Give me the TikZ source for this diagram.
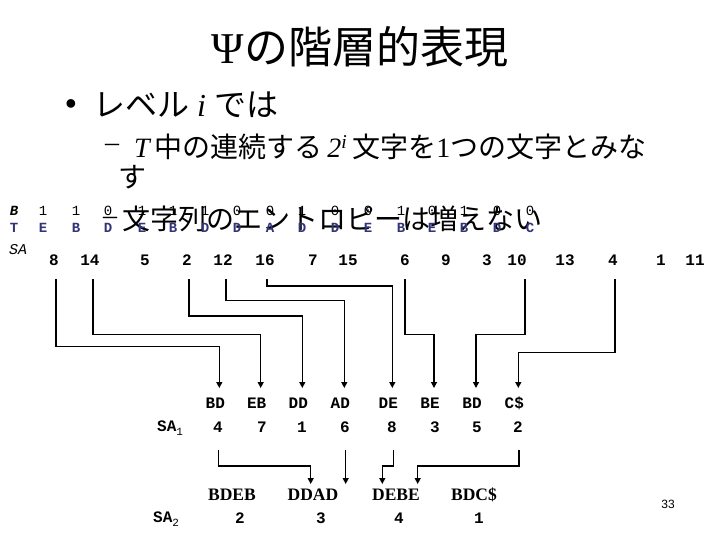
\documentclass[tikz,border=0pt]{standalone}
\usepackage{fontspec}
\setmainfont{Liberation Serif}
\newfontfamily\jp{Noto Sans CJK JP}
\newfontfamily\mono{Liberation Mono}
\newfontfamily\sansf{Liberation Sans}
\usetikzlibrary{arrows.meta}
\definecolor{tblue}{RGB}{51,51,120}
\tikzset{
  txt/.style={inner sep=0pt},
  brow/.style={txt, font=\mono\fontsize{14}{14}\selectfont},
  trow/.style={txt, font=\mono\bfseries\fontsize{14}{14}\selectfont, text=tblue},
  sarow/.style={txt, font=\mono\bfseries\fontsize{16}{16}\selectfont},
  pairtxt/.style={txt, font=\mono\bfseries\fontsize{16}{16}\selectfont},
  wordtxt/.style={txt, font=\bfseries\fontsize{17.5}{17.5}\selectfont},
  conn/.style={line width=1.3pt, -{Triangle[width=6pt,length=6pt]}},
}
\begin{document}
\begin{tikzpicture}[x=1pt,y=-1pt]
\useasboundingbox (0,0) rectangle (720,540);
\fill[white] (0,0) rectangle (720,540);

% title and bullets
\node[txt, font=\jp\fontsize{44}{44}\selectfont] (title) at (360,47) {{\rmfamily Ψ}の階層的表現};
\node[txt, font=\sansf\fontsize{32}{32}\selectfont] (dot) at (71,107) {•};
\node[txt, anchor=west, font=\fontsize{32}{32}\selectfont] (bul) at (93,105) {{\jp レベル} \textit{i} {\jp では}};
\node[txt, font=\fontsize{28}{28}\selectfont] (dash1) at (112,148) {–};
\node[txt, anchor=west, font=\fontsize{28}{28}\selectfont] (sub1) at (134,147)
  {\textit{T}\hspace{3pt}{\jp 中の連続する}\hspace{5pt}\textit{2}\textsuperscript{\textit{i}}\hspace{5pt}{\jp 文字を}1{\jp つの文字とみな}};
\node[txt, anchor=west, font=\jp\fontsize{28}{28}\selectfont] (sub1b) at (118,177) {す};
\node[txt, font=\fontsize{28}{28}\selectfont] (dash2) at (110,221) {–};
\node[txt, anchor=west, font=\jp\fontsize{28}{28}\selectfont] (sub2) at (122,219) {文字列のエントロピーは増えない};

% B, T, SA rows
\node[txt, font=\mono\bfseries\itshape\fontsize{14}{14}\selectfont] (Blab) at (14,211) {B};
\node[txt, font=\mono\bfseries\fontsize{14}{14}\selectfont, text=tblue] (Tlab) at (14,228) {T};
\node[txt, anchor=west, font=\mono\itshape\fontsize{15}{15}\selectfont] (SAlab) at (9,250) {SA};
\foreach \x/\v [count=\i] in {43/1,76/1,108/0,142/1,173/1,205/1,237/0,270/0,302/1,335/0,368/0,401/1,432/0,464/1,497/0,530/0}
  \node[brow] (b\i) at (\x,211) {\v};
\foreach \x/\v [count=\i] in {43/E,76/B,108/D,142/E,173/B,205/D,237/D,270/A,302/D,335/D,368/E,401/B,432/E,464/B,497/D,530/C}
  \node[trow] (t\i) at (\x,228) {\v};
\foreach \x/\v [count=\i] in {54/8,90/14,145/5,187/2,223/12,265/16,313/7,348/15,405/6,446/9,487/3,517/10,565/13,613/4,661/1,695/11}
  \node[sarow] (sa\i) at (\x,260.5) {\v};

% level 1
\foreach \x/\v [count=\i] in {215.3/BD,256.7/EB,298.3/DD,340.3/AD,388.3/DE,430/BE,472/BD,514.3/C\$}
  \node[pairtxt] (p\i) at (\x,403) {\v};
\foreach \i in {1,...,8} \path (p\i.center) ++(4,-15) coordinate (en\i);
\node[txt, anchor=west, font=\mono\bfseries\fontsize{16}{16}\selectfont] (SA1lab) at (157,428)
  {SA\raisebox{-4pt}{\mono\mdseries\fontsize{11}{11}\selectfont 1}};
\foreach \x/\v [count=\i] in {218/4,262/7,302/1,345/6,392/8,435/3,477/5,518/2}
  \node[sarow] (q\i) at (\x,427) {\v};

\foreach \s/\dx/\p/\h in {1/2/1/346.7, 2/3/2/334.3, 4/2/3/316, 5/3/4/300.7, 6/2/5/286, 9/0/6/334.3, 12/8/7/334.3, 14/2/8/352.7}
  \draw[conn] (sa\s.center) ++(\dx,18.5) |- (en\p |- 0,\h) -- (en\p);

% level 2
\foreach \x/\v [count=\i] in {232/BDEB,313/DDAD,396/DEBE,474/BDC\$}
  \node[wordtxt] (w\i) at (\x,495) {\v};
\node[txt, anchor=west, font=\mono\bfseries\fontsize{16}{16}\selectfont] (SA2lab) at (153,519)
  {SA\raisebox{-4pt}{\mono\mdseries\fontsize{11}{11}\selectfont 2}};
\foreach \x/\v [count=\i] in {240/2,321/3,399/4,479/1}
  \node[sarow] (r\i) at (\x,518) {\v};

\path (w2.center) ++(-2.3,-11) coordinate (f1);
\path (q4.center) ++(0.7,57) coordinate (f2);
\path (w3.center) ++(-13.7,-11) coordinate (f3);
\path (w3.center) ++(21.7,-11) coordinate (f4);
\draw[conn] (q1.center) ++(0.3,23) |- (f1 |- 0,466) -- (f1);
\draw[conn] (q4.center) ++(0.7,23) -- (f2);
\draw[conn] (q5.center) ++(1.3,23) |- (f3 |- 0,466) -- (f3);
\draw[conn] (q8.center) ++(1,23) |- (f4 |- 0,466) -- (f4);

\node[txt, font=\sansf\fontsize{12}{12}\selectfont] (pg) at (668,504) {33};
\end{tikzpicture}
\end{document}
